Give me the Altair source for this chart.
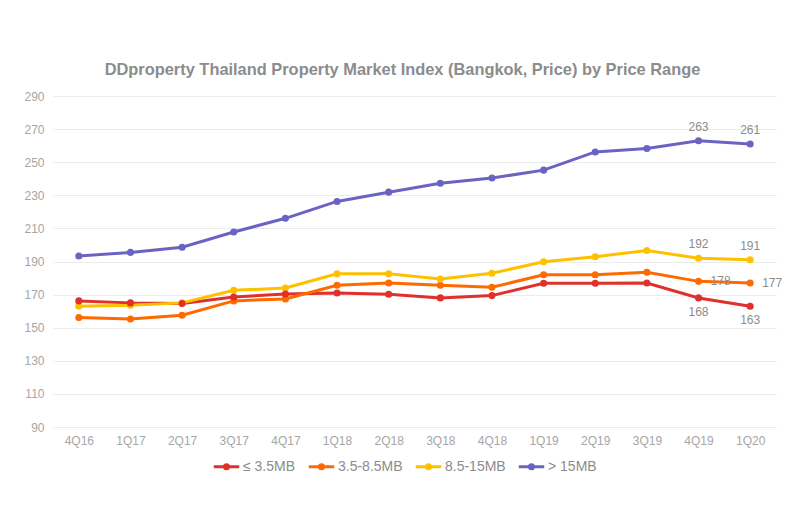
import altair as alt
import pandas as pd

quarters = ["4Q16", "1Q17", "2Q17", "3Q17", "4Q17", "1Q18", "2Q18", "3Q18",
            "4Q18", "1Q19", "2Q19", "3Q19", "4Q19", "1Q20"]
series_names = ["≤ 3.5MB", "3.5-8.5MB", "8.5-15MB", "> 15MB"]
le_3_5 = [166.2, 165.0, 164.6, 168.6, 170.4, 171.0, 170.2, 168.0, 169.4, 176.9, 176.9, 177.0, 168, 163]
r3_5_8_5 = [156.1, 155.3, 157.5, 166.2, 167.4, 175.6, 177.0, 175.6, 174.4, 182.0, 182.0, 183.5, 178, 177]
r8_5_15 = [163.0, 163.6, 165.0, 172.6, 174.0, 182.6, 182.6, 179.4, 182.9, 189.9, 192.9, 196.7, 192, 191]
gt_15 = [193.3, 195.5, 198.6, 207.8, 216.1, 226.3, 231.9, 237.3, 240.4, 245.2, 256.2, 258.3, 263, 261]
colors = ["#E0302C", "#FF6A00", "#FFC000", "#6B63C4"]
y_ticks = [90, 110, 130, 150, 170, 190, 210, 230, 250, 270, 290]

# labelled points: (series, quarter, position)
labels_series = ["> 15MB", "> 15MB", "8.5-15MB", "8.5-15MB", "3.5-8.5MB", "3.5-8.5MB", "≤ 3.5MB", "≤ 3.5MB"]
labels_quarter = ["4Q19", "1Q20", "4Q19", "1Q20", "4Q19", "1Q20", "4Q19", "1Q20"]
labels_pos = ["above", "above", "above", "above", "right", "right", "below", "below"]

rows = []
for name, vals in zip(series_names, [le_3_5, r3_5_8_5, r8_5_15, gt_15]):
    for q, v in zip(quarters, vals):
        rows.append({"quarter": q, "series": name, "value": v})
df = pd.DataFrame(rows)

lab_rows = []
for s, q, p in zip(labels_series, labels_quarter, labels_pos):
    v = df[(df.series == s) & (df.quarter == q)].value.iloc[0]
    lab_rows.append({"quarter": q, "series": s, "value": v, "text": str(round(v)), "pos": p})
ldf = pd.DataFrame(lab_rows)

legend_path = "M-1,0H1M-0.16,0a0.16,0.16 0 1,0 0.32,0a0.16,0.16 0 1,0 -0.32,0"

x = alt.X("quarter:N", sort=quarters, title=None,
          scale=alt.Scale(paddingInner=0, paddingOuter=0.5),
          axis=alt.Axis(labelAngle=0, labelColor="#A6A6A6", labelFontSize=12,
                        labelFont="Liberation Sans", domain=False, ticks=False,
                        labelPadding=8, grid=False))
y = alt.Y("value:Q", title=None,
          scale=alt.Scale(domain=[90, 290], nice=False, zero=False),
          axis=alt.Axis(values=y_ticks, labelColor="#A6A6A6", labelOverlap=False,
                        labelFontSize=12, labelFont="Liberation Sans", domain=False,
                        ticks=False, labelPadding=9, gridColor="#EBEBEB"))
color = alt.Color("series:N", sort=series_names,
                  scale=alt.Scale(domain=series_names, range=colors),
                  legend=alt.Legend(title=None, orient="none", direction="horizontal",
                                    legendX=159, legendY=356,
                                    symbolType=legend_path, symbolSize=650,
                                    symbolStrokeWidth=3, symbolOffset=0,
                                    labelFontSize=14, labelFont="Liberation Sans",
                                    labelColor="#8C8C8C", labelOffset=2,
                                    columnPadding=6))

base = alt.Chart(df)
lines = base.mark_line(strokeWidth=3, point=alt.OverlayMarkDef(size=50, filled=True, opacity=1)).encode(
    x=x, y=y, color=color, order=alt.Order("series:N"))

txt_common = dict(fontSize=12, font="Liberation Sans", color="#8C8C8C")
above = alt.Chart(ldf[ldf.pos == "above"]).mark_text(dy=-14, **txt_common).encode(
    x=x, y=y, text="text:N")
below = alt.Chart(ldf[ldf.pos == "below"]).mark_text(dy=14, **txt_common).encode(
    x=x, y=y, text="text:N")
right = alt.Chart(ldf[ldf.pos == "right"]).mark_text(dx=12, align="left", **txt_common).encode(
    x=x, y=y, text="text:N")

chart = alt.layer(lines, above, below, right).properties(
    width=723, height=331,
    padding={"left": 53, "top": 96, "right": 24, "bottom": 83},
    autosize=alt.AutoSizeParams(type="none"),
    title=alt.TitleParams("DDproperty Thailand Property Market Index (Bangkok, Price) by Price Range",
                          fontSize=16.4, font="Liberation Sans", fontWeight="bold",
                          color="#8C8C8C", anchor="middle", offset=12, dx=-12),
    background="white",
).configure_view(stroke=None)

chart.save("out.html", embed_options={"renderer": "svg", "actions": False})
